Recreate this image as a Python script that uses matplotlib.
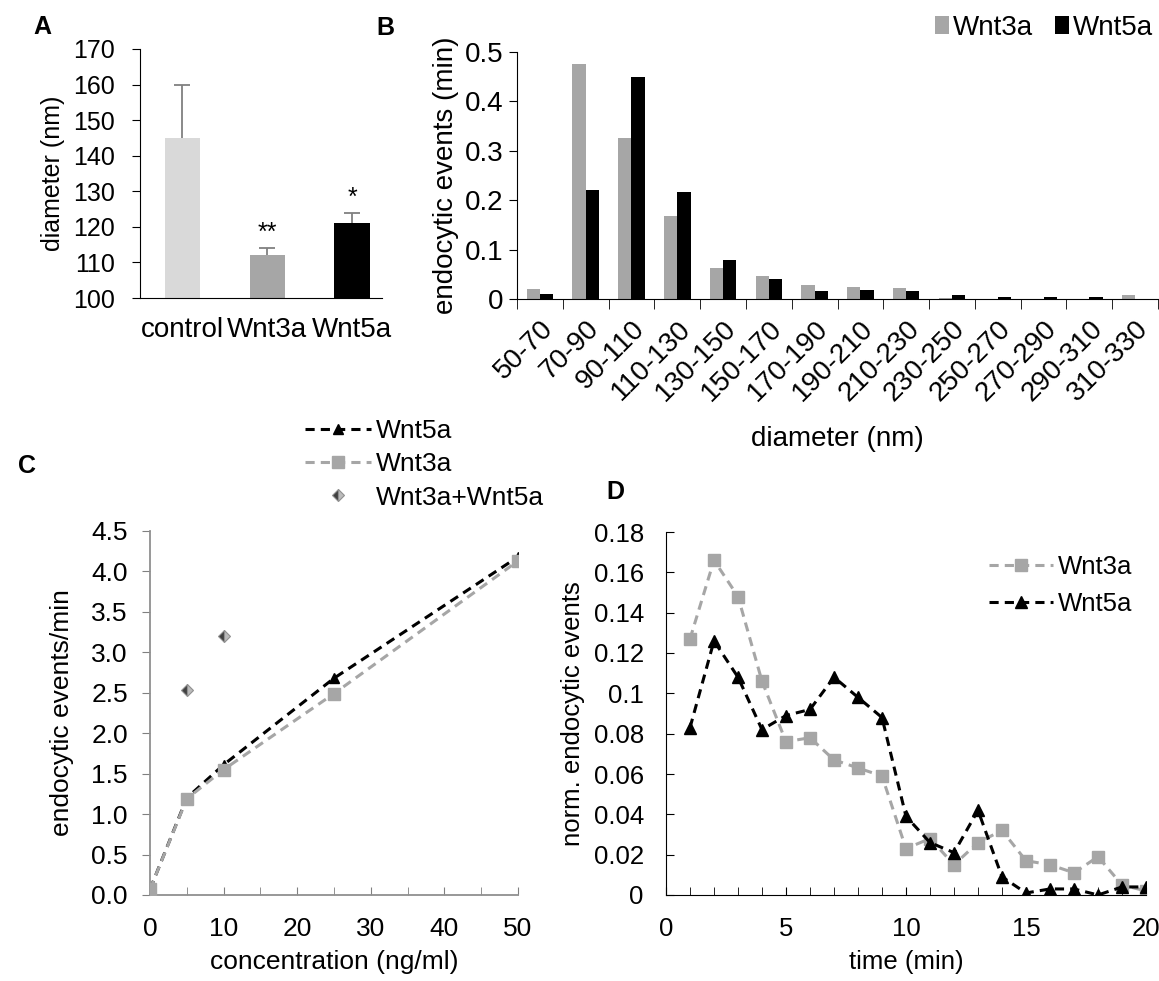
import numpy as np
import matplotlib
matplotlib.use("Agg")
import matplotlib.pyplot as plt

plt.rcParams['font.family'] = ['Liberation Sans', 'DejaVu Sans']

# --- panel A
a_groups = ['control', 'Wnt3a', 'Wnt5a']
a_means = [145, 112, 121]
a_err = [15, 2, 3]
a_stars = ['', '**', '*']

# --- panel B
b_bins = ['50-70', '70-90', '90-110', '110-130', '130-150', '150-170', '170-190',
          '190-210', '210-230', '230-250', '250-270', '270-290', '290-310', '310-330']
b_wnt3a = [0.020, 0.475, 0.326, 0.168, 0.062, 0.046, 0.029, 0.024, 0.023, 0.003,
           0.0, 0.0, 0.0, 0.008]
b_wnt5a = [0.011, 0.220, 0.450, 0.216, 0.078, 0.040, 0.016, 0.018, 0.016, 0.009,
           0.005, 0.005, 0.005, 0.0]

# --- panel C
c_conc = [0, 5, 10, 25, 50]
c_wnt5a = [0.07, 1.20, 1.61, 2.68, 4.18]
c_wnt3a = [0.07, 1.19, 1.55, 2.49, 4.13]
c_combo_conc = [5, 10]
c_combo = [2.54, 3.20]

# --- panel D
d_time = list(range(1, 21))
d_wnt3a = [0.127, 0.166, 0.148, 0.106, 0.076, 0.078, 0.067, 0.063, 0.059, 0.023,
           0.028, 0.015, 0.026, 0.032, 0.017, 0.015, 0.011, 0.019, 0.005, 0.002]
d_wnt5a = [0.083, 0.126, 0.108, 0.082, 0.089, 0.092, 0.108, 0.098, 0.088, 0.039,
           0.026, 0.021, 0.042, 0.009, 0.001, 0.003, 0.003, 0.0, 0.004, 0.004]

GREY = '#a6a6a6'

fig = plt.figure(figsize=(11.59, 9.81), dpi=100)

def W(x0, y0, x1, y1):
    # pixel box -> figure fraction
    return [x0 / 1159, 1 - y1 / 981, (x1 - x0) / 1159, (y1 - y0) / 981]

# ---------------- A
FS = 18
axA = fig.add_axes(W(140, 49, 382, 298))
xa = np.arange(len(a_groups))
axA.bar(xa, a_means, width=0.42, color=['#d9d9d9', GREY, 'black'])
eb = axA.errorbar(xa, a_means, yerr=[np.zeros(3), a_err], fmt='none',
                  ecolor='#808080', elinewidth=1.3, capsize=6, capthick=1.3)
eb[1][0].set_visible(False)  # only the upper cap
for x, m, e, s in zip(xa, a_means, a_err, a_stars):
    if s:
        axA.text(x, m + e + 0.8, s, ha='center', va='bottom', fontsize=FS)
axA.set_ylim(100, 170)
axA.set_xlim(-0.5, 2.35)
axA.set_yticks(range(100, 171, 10))
axA.set_xticks(xa)
axA.set_xticklabels(a_groups)
axA.tick_params(axis='x', length=0, labelsize=20, pad=14)
axA.tick_params(axis='y', labelsize=FS, direction='out', length=6, pad=12)
axA.set_ylabel('diameter (nm)', fontsize=FS, labelpad=6)
for s in ['top', 'right']:
    axA.spines[s].set_visible(False)
axA.text(-0.44, 1.06, 'A', transform=axA.transAxes, fontsize=FS, fontweight='bold')

# ---------------- B
FSB = 20
axB = fig.add_axes(W(517, 52, 1158, 299))
xb = np.arange(len(b_bins))
bw = 0.29
axB.bar(xb - bw / 2, b_wnt3a, width=bw, color=GREY, label='Wnt3a')
axB.bar(xb + bw / 2, b_wnt5a, width=bw, color='black', label='Wnt5a')
axB.set_xlim(-0.5, len(b_bins) - 0.55)
axB.set_ylim(0, 0.5)
axB.set_yticks([0, 0.1, 0.2, 0.3, 0.4, 0.5])
axB.set_yticklabels(['0', '0.1', '0.2', '0.3', '0.4', '0.5'])
axB.set_xticks(xb)
axB.set_xticklabels(b_bins, rotation=45, ha='right', rotation_mode='anchor')
axB.set_xticks(np.arange(-0.5, len(b_bins), 1), minor=True)
axB.tick_params(axis='x', which='major', length=0, labelsize=FSB, pad=12)
axB.tick_params(axis='x', which='minor', length=7, direction='out')
axB.tick_params(axis='y', labelsize=FSB, length=6, pad=4)
axB.set_ylabel('endocytic events (min)', fontsize=FSB, labelpad=4)
axB.set_xlabel('diameter (nm)', fontsize=FSB, labelpad=14)
for s in ['top', 'right']:
    axB.spines[s].set_visible(False)
axB.legend(loc='lower right', bbox_to_anchor=(1.01, 1.0), ncol=2, frameon=False,
           fontsize=FSB, handlelength=0.5, handleheight=0.6, handletextpad=0.15,
           columnspacing=0.8, borderaxespad=0)
axB.text(-0.22, 1.07, 'B', transform=axB.transAxes, fontsize=18, fontweight='bold')

# ---------------- C
FS = 19
axC = fig.add_axes(W(150, 531, 518, 895))
axC.plot(c_conc, c_wnt5a, color='black', lw=2.2, marker='^', ms=7,
         dashes=(3, 2), label='Wnt5a', zorder=2)
axC.plot(c_conc, c_wnt3a, color=GREY, lw=2.2, marker='s', ms=9,
         dashes=(3, 2), label='Wnt3a', zorder=3)
axC.plot(c_combo_conc, c_combo, linestyle='none', marker='D', ms=6,
         fillstyle='left', color='#404040', markerfacecoloralt='#bbbbbb',
         markeredgecolor='#909090', markeredgewidth=0.8, label='Wnt3a+Wnt5a')
axC.set_xlim(0, 50)
axC.set_ylim(0, 4.5)
axC.set_xticks(range(0, 51, 10))
axC.set_xticks(range(0, 51, 5), minor=True)
axC.set_yticks(np.arange(0, 4.51, 0.5))
axC.set_yticklabels(['%.1f' % v for v in np.arange(0, 4.51, 0.5)])
axC.tick_params(axis='both', which='both', labelsize=FS, color='#808080', length=6)
axC.tick_params(axis='x', which='both', direction='in', pad=16)
axC.tick_params(axis='y', pad=10)
for s in ['left', 'bottom']:
    axC.spines[s].set_color('#909090')
    axC.spines[s].set_linewidth(1.3)
for s in ['top', 'right']:
    axC.spines[s].set_visible(False)
axC.set_ylabel('endocytic events/min', fontsize=FS, labelpad=12)
axC.set_xlabel('concentration (ng/ml)', fontsize=FS, labelpad=6)
axC.legend(loc='lower right', bbox_to_anchor=(1.1, 1.03), frameon=False,
           fontsize=FS, handlelength=2.5, handletextpad=0.2, labelspacing=0.35,
           borderaxespad=0)
axC.text(-0.36, 1.16, 'C', transform=axC.transAxes, fontsize=18, fontweight='bold')

# ---------------- D
FS = 18.5
axD = fig.add_axes(W(666, 532, 1146, 895))
axD.plot(d_time, d_wnt3a, color=GREY, lw=2.2, marker='s', ms=9,
         dashes=(3, 2), label='Wnt3a')
axD.plot(d_time, d_wnt5a, color='black', lw=2.2, marker='^', ms=9,
         dashes=(3, 2), label='Wnt5a')
axD.set_xlim(0, 20)
axD.set_ylim(0, 0.18)
axD.set_xticks(range(0, 21, 5))
axD.set_xticks(range(0, 21, 1), minor=True)
axD.set_yticks(np.arange(0, 0.181, 0.02))
axD.set_yticklabels(['0', '0.02', '0.04', '0.06', '0.08', '0.1', '0.12', '0.14',
                     '0.16', '0.18'])
axD.tick_params(axis='both', which='both', labelsize=FS, length=6, direction='in')
axD.tick_params(axis='x', which='both', pad=16)
axD.tick_params(axis='y', pad=16)
for s in ['top', 'right']:
    axD.spines[s].set_visible(False)
axD.set_ylabel('norm. endocytic events', fontsize=FS, labelpad=6)
axD.set_xlabel('time (min)', fontsize=FS, labelpad=6)
axD.legend(loc='upper right', bbox_to_anchor=(1.02, 1.0), frameon=False,
           fontsize=FS, handlelength=2.5, handletextpad=0.2, labelspacing=0.5)
axD.text(-0.125, 1.09, 'D', transform=axD.transAxes, fontsize=18, fontweight='bold')

fig.savefig('out.png', dpi=100)
